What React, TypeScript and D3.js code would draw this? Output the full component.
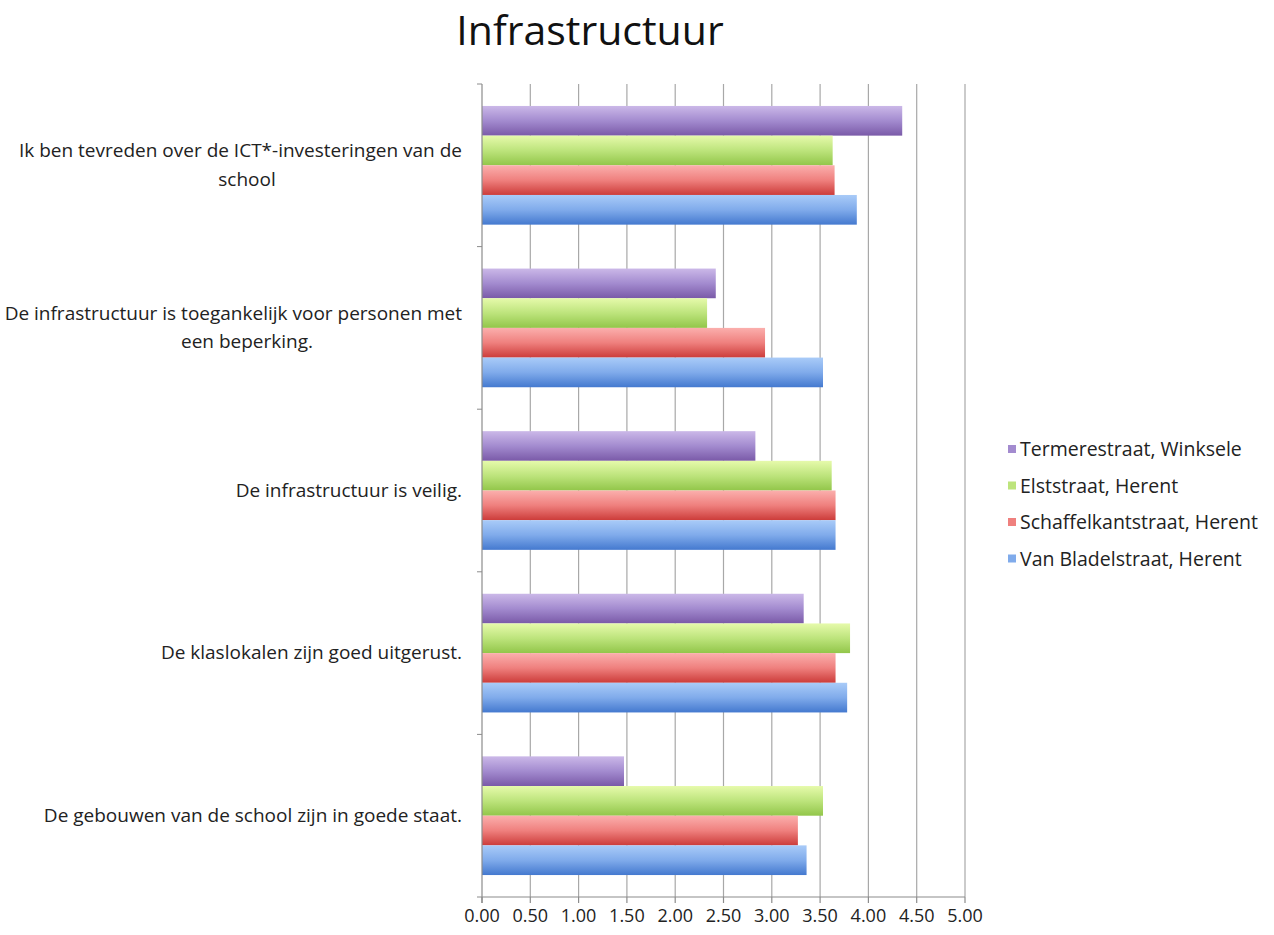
import React, { useRef, useEffect } from 'react';
import * as d3 from 'd3';

// categories listed top to bottom as they appear in the chart
const categories = [
  'Ik ben tevreden over de ICT*-investeringen van de|school',
  'De infrastructuur is toegankelijk voor personen met|een beperking.',
  'De infrastructuur is veilig.',
  'De klaslokalen zijn goed uitgerust.',
  'De gebouwen van de school zijn in goede staat.',
];

const seriesNames = [
  'Termerestraat, Winksele',
  'Elststraat, Herent',
  'Schaffelkantstraat, Herent',
  'Van Bladelstraat, Herent',
];

const termerestraat = [4.35, 2.42, 2.83, 3.33, 1.47];
const elststraat = [3.63, 2.33, 3.62, 3.81, 3.53];
const schaffelkantstraat = [3.65, 2.93, 3.66, 3.66, 3.27];
const vanBladelstraat = [3.88, 3.53, 3.66, 3.78, 3.36];

const xTicks = [0, 0.5, 1, 1.5, 2, 2.5, 3, 3.5, 4, 4.5, 5];

// gradient stops per series: top, middle, bottom
const palette = [
  ['#cbb8e8', '#a38bcf', '#7a5aa8'],
  ['#e6faab', '#bde47c', '#92c64a'],
  ['#fbafad', '#ef807e', '#cc3c3a'],
  ['#a9cbf8', '#80abeb', '#4479cf'],
];

const App = () => {
  const svgRef = useRef(null);

  useEffect(() => {
    const width = 1274, height = 935;
    const margin = { top: 84, left: 482, right: 309, bottom: 38 };
    const svg = d3.select(svgRef.current);
    svg.selectAll('*').remove();

    const values = [termerestraat, elststraat, schaffelkantstraat, vanBladelstraat];

    const x = d3.scaleLinear().domain([0, 5]).range([margin.left, width - margin.right]);
    const y = d3.scaleBand()
      .domain(d3.range(categories.length))
      .range([margin.top, height - margin.bottom]);
    const inner = d3.scaleBand()
      .domain(d3.range(seriesNames.length))
      .range([0, y.bandwidth()])
      .paddingOuter(0.74)
      .paddingInner(0);

    const defs = svg.append('defs');
    palette.forEach((c, i) => {
      const g = defs.append('linearGradient')
        .attr('id', `grad${i}`)
        .attr('x1', 0).attr('y1', 0).attr('x2', 0).attr('y2', 1);
      g.append('stop').attr('offset', '0%').attr('stop-color', c[0]);
      g.append('stop').attr('offset', '50%').attr('stop-color', c[1]);
      g.append('stop').attr('offset', '100%').attr('stop-color', c[2]);
    });

    const font = '"Open Sans", "Noto Sans", sans-serif';
    const y0 = margin.top, y1 = height - margin.bottom;

    // title
    svg.append('text')
      .attr('x', 590).attr('y', 45)
      .attr('text-anchor', 'middle')
      .attr('font-family', font)
      .attr('font-size', 41)
      .attr('fill', '#111')
      .text('Infrastructuur');

    // vertical gridlines
    svg.append('g').selectAll('line')
      .data(xTicks.slice(1))
      .join('line')
      .attr('x1', d => x(d)).attr('x2', d => x(d))
      .attr('y1', y0).attr('y2', y1)
      .attr('stroke', '#a8a8a8')
      .attr('stroke-width', 1.2);

    // bars
    values.forEach((vals, s) => {
      svg.append('g').selectAll('rect')
        .data(vals)
        .join('rect')
        .attr('x', x(0))
        .attr('y', (d, i) => y(i) + inner(s))
        .attr('width', d => x(d) - x(0))
        .attr('height', inner.bandwidth())
        .attr('fill', `url(#grad${s})`);
    });

    // axes
    svg.append('line')
      .attr('x1', x(0)).attr('x2', x(0)).attr('y1', y0).attr('y2', y1 + 6)
      .attr('stroke', '#8c8c8c').attr('stroke-width', 1.2);
    svg.append('line')
      .attr('x1', x(0) - 5).attr('x2', x(5)).attr('y1', y1).attr('y2', y1)
      .attr('stroke', '#8c8c8c').attr('stroke-width', 1.2);
    svg.append('g').selectAll('line')
      .data(d3.range(categories.length))
      .join('line')
      .attr('x1', x(0) - 5).attr('x2', x(0))
      .attr('y1', i => y(i)).attr('y2', i => y(i))
      .attr('stroke', '#8c8c8c');
    svg.append('g').selectAll('line')
      .data(xTicks)
      .join('line')
      .attr('x1', d => x(d)).attr('x2', d => x(d))
      .attr('y1', y1).attr('y2', y1 + 6)
      .attr('stroke', '#8c8c8c').attr('stroke-width', 1.2);

    // x tick labels
    svg.append('g').selectAll('text')
      .data(xTicks)
      .join('text')
      .attr('x', d => x(d))
      .attr('y', y1 + 25)
      .attr('text-anchor', 'middle')
      .attr('font-family', font)
      .attr('font-size', 18)
      .attr('fill', '#222')
      .text(d => d3.format('.2f')(d));

    // category labels
    categories.forEach((label, i) => {
      const lines = label.split('|');
      const cy = y(i) + y.bandwidth() / 2;
      const lh = 28.5;
      const top = cy - ((lines.length - 1) * lh) / 2 + 6;
      svg.append('text')
        .attr('x', 462).attr('y', top)
        .attr('text-anchor', 'end')
        .attr('font-family', font)
        .attr('font-size', 19)
        .attr('fill', '#222')
        .text(lines[0]);
      if (lines.length > 1) {
        svg.append('text')
          .attr('x', 247).attr('y', top + lh)
          .attr('text-anchor', 'middle')
          .attr('font-family', font)
          .attr('font-size', 19)
          .attr('fill', '#222')
          .text(lines[1]);
      }
    });

    // legend
    const legend = svg.append('g').attr('transform', 'translate(1008,450)');
    seriesNames.forEach((name, i) => {
      const g = legend.append('g').attr('transform', `translate(0,${i * 36.5})`);
      g.append('rect')
        .attr('x', 0).attr('y', -5).attr('width', 8).attr('height', 8)
        .attr('fill', palette[i][1]);
      g.append('text')
        .attr('x', 12).attr('y', 6)
        .attr('font-family', font)
        .attr('font-size', 19.5)
        .attr('fill', '#222')
        .text(name);
    });
  }, []);

  return (
    <svg
      ref={svgRef}
      width={1274}
      height={935}
      style={{ position: 'absolute', left: 0, top: 0, background: '#fff' }}
    />
  );
};

export default App;
